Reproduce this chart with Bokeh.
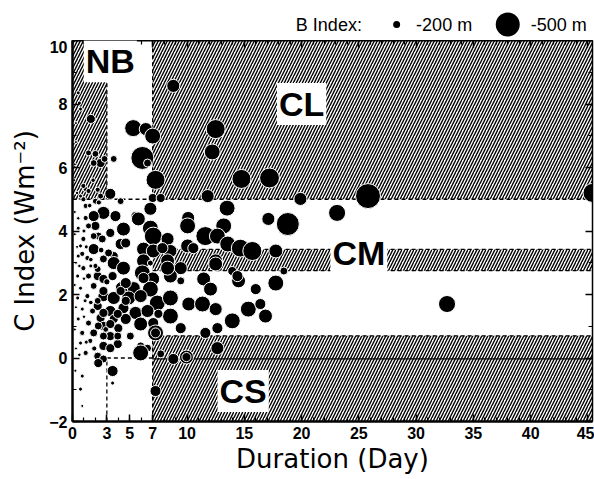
import math
from bokeh.plotting import figure
from bokeh.layouts import column
from bokeh.models import Range1d, FixedTicker, LinearAxis, Label, ColumnDataSource
from bokeh.core.properties import value
from bokeh.embed import file_html
from bokeh.resources import INLINE

# ---------------- data ----------------
duration_day = [
    8.8, 12.5, 12.2, 5.3, 6.4, 7.0, 6.1, 6.55, 7.25, 14.75, 17.2, 3.6, 11.8, 13.5, 19.9, 25.8, 23.1, 18.8, 45.4, 32.7,
    1.6, 0.5, 2.0, 2.45, 2.8, 3.3, 1.15, 0.95, 7.0, 7.7, 6.8, 5.5, 3.75, 2.7, 1.85, 1.15, 4.45, 2.0, 2.25, 3.3,
    6.8, 7.05, 8.3, 10.1, 10.05, 10.05, 6.2, 7.05, 8.55, 4.2, 3.6, 1.85, 2.7, 0.95, 0.85, 17.1, 13.2, 11.6, 12.65, 13.55,
    14.65, 15.7, 17.75, 10.55, 12.5, 3.6, 4.45, 6.2, 8.3, 9.45, 6.1, 7.0, 8.55, 9.45, 2.2, 2.7, 4.35, 5.35, 6.8, 2.7,
    3.6, 4.9, 5.95, 7.4, 8.55, 10.15, 2.2, 3.3, 4.45, 5.5, 6.55, 8.55, 7.5, 2.45, 3.6, 4.65, 5.95, 7.05, 9.45, 2.7,
    4.0, 7.25, 7.25, 1.85, 3.3, 5.05, 1.55, 2.7, 3.95, 5.95, 6.55, 5.95, 7.7, 9.95, 9.95, 8.8, 2.2, 2.7, 2.25, 3.5,
    3.5, 0.7, 7.25, 12.5, 13.95, 11.45, 12.05, 14.5, 17.75, 16.0, 18.45, 11.35, 12.5, 15.35, 16.4, 16.85, 13.95, 11.6, 12.65, 12.65,
    5.75, 7.85, 6.8, 8.3, 6.2, 14.4,
    0.95, 1.4, 0.7, 2.45, 4.2, 1.15, 2.0, 0.5, 1.4, 1.85, 2.6, 4.65, 0.7, 0.5, 1.3, 3.15, 0.95, 2.2, 0.45, 1.4,
    3.5, 4.65, 0.7, 1.85, 2.7, 4.2, 0.45, 1.3, 2.2, 4.65, 0.85, 1.75, 2.7, 3.95, 0.5, 1.4, 2.25, 3.3, 0.85, 2.7,
    3.95, 0.7, 3.3, 1.15, 0.85, 0.85, 0.6, 0.7, 1.4, 1.85,
    0.2, 0.2, 0.3, 0.2, 0.3, 0.2, 0.3, 0.15, 0.3, 0.6, 0.5, 0.6, 0.4, 1.2, 1.1, 1.2, 1.0, 1.6, 1.6, 1.5,
    1.9, 2.0, 2.3, 2.5, 2.9, 3.0, 0.25, 0.3, 0.2, 1.0, 1.6, 1.0, 0.4, 1.8, 2.2,
]
c_index = [
    8.57, 7.21, 6.49, 7.24, 7.21, 6.99, 6.30, 6.14, 5.61, 5.64, 5.67, 6.27, 5.10, 4.72, 5.01, 5.10, 4.57, 4.22, 5.2, 1.70,
    7.53, 8.35, 6.43, 6.14, 6.27, 5.17, 5.32, 5.0, 5.04, 5.04, 4.70, 4.47, 4.47, 4.57, 4.47, 4.41, 4.06, 4.16, 3.84, 3.94,
    4.09, 3.84, 3.75, 4.41, 4.16, 3.53, 3.43, 3.37, 3.37, 3.59, 3.21, 3.43, 3.12, 3.75, 3.28, 4.38, 4.16, 3.84, 3.84, 3.59,
    3.46, 3.37, 3.37, 3.46, 3.06, 2.99, 2.83, 3.06, 3.06, 2.83, 2.68, 2.49, 2.58, 2.43, 2.58, 2.49, 2.20, 2.20, 2.17, 1.95,
    1.89, 1.89, 1.95, 1.73, 1.89, 1.70, 1.64, 1.48, 1.57, 1.42, 1.48, 1.32, 1.39, 1.26, 1.23, 1.23, 1.07, 1.10, 0.94, 1.01,
    0.94, 0.79, 0.79, 0.79, 0.69, 0.69, 0.54, 0.38, 0.44, 0.38, 0.31, 0.16, 0.13, 0.03, 0.03, -0.03, 0.06, -0.03, -0.16, -0.41,
    -0.79, -0.98, -1.04, 2.96, 2.74, 2.49, 2.17, 2.43, 2.36, 2.17, 2.74, 1.70, 1.54, 1.54, 1.70, 1.32, 1.17, 0.79, 0.94, 0.31,
    4.38, 3.46, 2.99, 2.83, 2.52, 2.58,
    5.42, 5.26, 5.10, 5.10, 4.94, 4.79, 4.94, 4.09, 4.16, 3.84, 3.75, 3.62, 3.53, 3.21, 3.15, 3.31, 2.83, 2.80, 2.58, 2.58,
    2.58, 2.36, 2.20, 2.27, 2.11, 2.11, 1.89, 1.95, 1.80, 1.80, 1.54, 1.48, 1.42, 1.39, 1.23, 1.10, 1.01, 1.07, 0.79, 0.69,
    0.69, 0.47, 0.31, 0.16, -0.57, -1.51, 8.03, 7.84, 6.46, 6.14,
    4.6, 3.9, 3.0, 2.3, 1.6, 0.9, 0.3, 5.6, 6.8, 0.1, 4.4, 2.9, 3.5, 0.5, 1.8, 3.5, 4.0, 1.75, 3.1, 4.8,
    0.3, 2.9, 4.9, 3.4, 0.9, 2.4, -0.4, 7.4, 6.1, 2.5, 2.9, 1.3, 5.2, 5.6, 5.3,
]
b_index_m = [
    -290, -395, -340, -360, -290, -340, -465, -200, -395, -395, -410, -180, -290, -340, -290, -500, -360, -465, -395, -360,
    -220, -130, -180, -220, -180, -255, -150, -150, -220, -220, -290, -220, -255, -290, -255, -150, -305, -220, -200, -220,
    -340, -375, -290, -290, -340, -305, -305, -305, -290, -255, -220, -255, -200, -150, -150, -290, -340, -395, -340, -340,
    -375, -395, -305, -255, -305, -290, -305, -305, -305, -290, -340, -305, -305, -200, -220, -220, -305, -290, -340, -255,
    -290, -305, -290, -340, -340, -305, -220, -255, -255, -290, -290, -340, -220, -220, -220, -255, -305, -255, -255, -220,
    -220, -340, -235, -200, -220, -200, -150, -220, -220, -200, -200, -340, -200, -305, -220, -255, -200, -200, -220, -255,
    -130, -130, -255, -305, -220, -305, -305, -305, -340, -255, -200, -340, -290, -340, -255, -305, -340, -255, -255, -290,
    -305, -255, -165, -305, -255, -255,
    -150, -150, -130, -165, -180, -150, -165, -130, -165, -180, -200, -235, -130, -130, -150, -200, -150, -180, -130, -165,
    -220, -255, -130, -180, -220, -220, -130, -150, -180, -220, -130, -165, -220, -220, -130, -165, -200, -220, -150, -200,
    -200, -130, -220, -150, -130, -110, -130, -130, -165, -180,
    -110, -110, -110, -110, -110, -110, -110, -110, -110, -120, -120, -120, -110, -130, -130, -130, -130, -140, -140, -140,
    -150, -150, -150, -160, -160, -170, -110, -110, -110, -120, -130, -120, -120, -140, -150,
]

x_major_ticks = [0, 3, 5, 7, 10, 15, 20, 25, 30, 35, 40, 45]
y_major_ticks = [-2, 0, 2, 4, 6, 8, 10]

# regions (duration range, C index range)
region_names = ["NB", "CL", "CM", "CS"]
region_left = [0, 7, 7, 7]
region_right = [3, 45.4, 45.4, 45.4]
region_bottom = [5, 5, 2.75, -2]
region_top = [10, 10, 3.42, 0.7]
region_label_x = [3.3, 20.0, 25.0, 14.9]
region_label_y = [9.35, 8.0, 3.31, -1.04]

legend_b = [-200, -500]
legend_labels = ["-200 m", "-500 m"]


def b_to_size(b):
    return max(2.0, 7 + (abs(b) - 200) * 17.0 / 300.0)


sizes = [b_to_size(b) + 1 for b in b_index_m]

x_range = Range1d(0, 45.4)
FRAME_W = 520

# ---------------- main figure ----------------
p = figure(frame_width=FRAME_W, frame_height=381, x_range=x_range, y_range=Range1d(-2, 10),
           output_backend="svg", toolbar_location=None,
           min_border_left=72, min_border_right=2, min_border_top=0, min_border_bottom=50)
p.xgrid.visible = False
p.ygrid.visible = False
p.outline_line_color = None
p.background_fill_color = "white"

p.quad(left=region_left, right=region_right, bottom=region_bottom, top=region_top,
       fill_color="white", line_color=None,
       hatch_pattern="/", hatch_color="black", hatch_scale=6, hatch_weight=1.4)

dash = "4 3"
p.line([3, 3], [5, 10], line_color="black", line_dash=dash, line_width=1.3)
p.line([7, 7], [5, 10], line_color="black", line_dash=dash, line_width=1.3)
p.line([0, 45.4], [5, 5], line_color="black", line_dash=dash, line_width=1.3)
p.line([7, 45.4], [3.42, 3.42], line_color="black", line_dash=dash, line_width=1.3)
p.line([7, 45.4], [2.75, 2.75], line_color="black", line_dash=dash, line_width=1.3)
p.line([7, 45.4], [0.7, 0.7], line_color="black", line_dash=dash, line_width=1.3)
p.line([3, 3], [-2, 0], line_color="black", line_dash=dash, line_width=1.3)
p.line([7, 7], [-2, 0.7], line_color="black", line_dash=dash, line_width=1.3)
p.line([3, 7], [0, 0], line_color="black", line_dash=dash, line_width=1.3)
p.line([7, 45.4], [-0.03, -0.03], line_color="black", line_width=1.3)

src = ColumnDataSource(dict(x=duration_day, y=c_index, s=sizes))
p.scatter("x", "y", size="s", source=src, marker="circle",
          fill_color="black", line_color="white", line_width=1)

for name, lx, ly in zip(region_names, region_label_x, region_label_y):
    p.add_layout(Label(x=lx, y=ly, text=name, text_font="Liberation Sans", text_font_style="bold",
                       text_font_size="34px", text_align="center", text_baseline="middle",
                       text_color="black", background_fill_color="white", padding=2))


def style_axis(ax, labels=True, lw=2.5):
    ax.axis_line_width = lw
    ax.axis_line_color = "black"
    ax.major_tick_in = 7
    ax.major_tick_out = 0
    ax.minor_tick_in = 4
    ax.minor_tick_out = 0
    ax.major_tick_line_width = 1.5
    ax.minor_tick_line_width = 1.2
    ax.major_label_text_font = "Liberation Sans"
    ax.major_label_text_font_style = "bold"
    ax.major_label_text_font_size = "16px"
    ax.major_label_text_color = "black"
    ax.major_label_standoff = 5


p.xaxis.ticker = FixedTicker(ticks=x_major_ticks, minor_ticks=list(range(0, 46)))
p.yaxis.ticker = FixedTicker(ticks=y_major_ticks, minor_ticks=list(range(-2, 11)))
style_axis(p.xaxis[0])
style_axis(p.yaxis[0])
p.xaxis.axis_label = "Duration (Day)"
p.yaxis.axis_label = "C Index (Wm⁻²)"
for ax in (p.xaxis[0], p.yaxis[0]):
    ax.axis_label_text_font = "DejaVu Sans"
    ax.axis_label_text_font_size = "26px"
    ax.axis_label_text_font_style = "normal"
    ax.axis_label_text_color = "black"
p.xaxis.axis_label_standoff = 2
p.yaxis.axis_label_standoff = 6

top_ax = LinearAxis(ticker=FixedTicker(ticks=x_major_ticks, minor_ticks=list(range(0, 46))))
style_axis(top_ax, lw=2)
top_ax.major_label_overrides = {t: "" for t in x_major_ticks}
top_ax.major_label_standoff = 0
p.add_layout(top_ax, "above")
right_ax = LinearAxis(ticker=FixedTicker(ticks=y_major_ticks, minor_ticks=list(range(-2, 11))))
style_axis(right_ax, lw=1.5)
right_ax.major_label_overrides = {t: "" for t in y_major_ticks}
right_ax.major_label_standoff = 0
p.add_layout(right_ax, "right")

# ---------------- legend strip (shares the x scale) ----------------
leg = figure(frame_width=FRAME_W, frame_height=40, x_range=x_range, y_range=Range1d(0, 40),
             output_backend="svg", toolbar_location=None,
             min_border_left=72, min_border_right=2, min_border_top=0, min_border_bottom=0,
             x_axis_location=None, y_axis_location=None)
leg.xgrid.visible = False
leg.ygrid.visible = False
leg.outline_line_color = None

leg_dot_x = [28.3, 38.0]
leg_text_x = [30.0, 40.0]
leg.scatter(leg_dot_x, [16, 16], size=[b_to_size(b) for b in legend_b], marker="circle",
            fill_color="black", line_color=None)
leg.text([19.5] + leg_text_x, [16, 16, 16], text=["B Index:"] + legend_labels,
         text_font=value("Liberation Sans"), text_font_size="18px",
         text_align="left", text_baseline="middle", text_color="black")

layout = column(leg, p, spacing=0)
open("out.html", "w").write(file_html(layout, INLINE))
